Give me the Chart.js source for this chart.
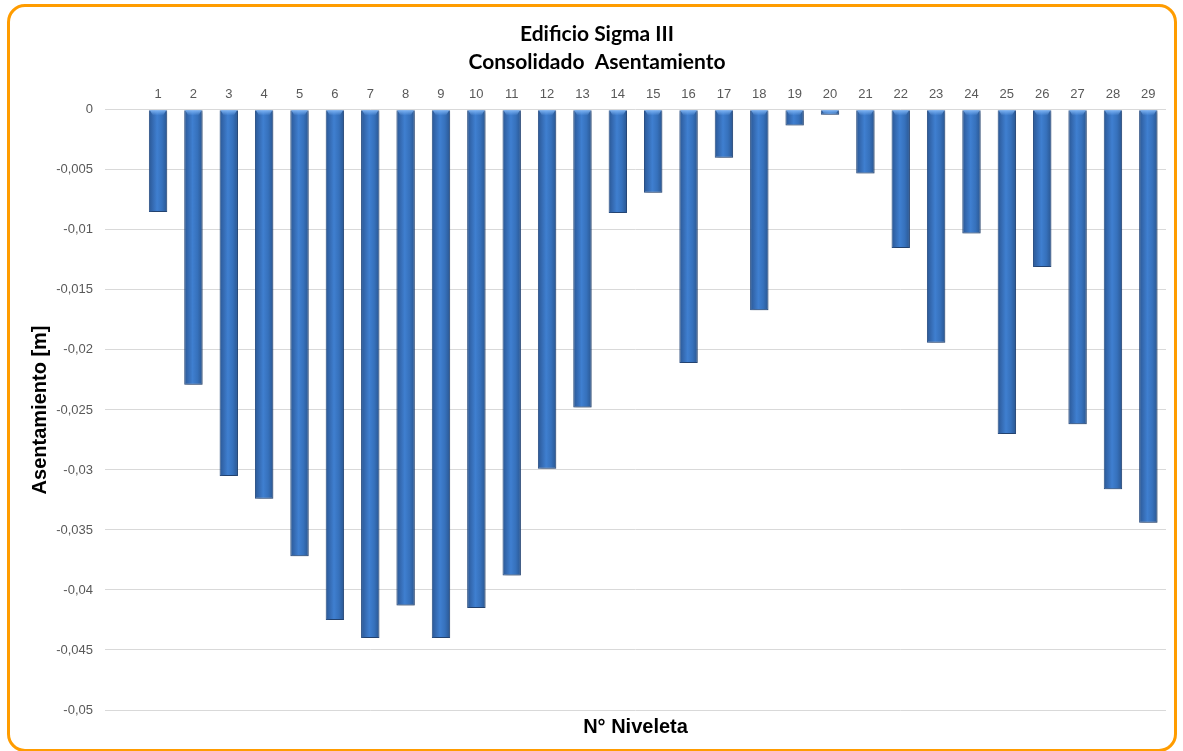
<!DOCTYPE html>
<html>
<head>
<meta charset="utf-8">
<script src="https://cdn.jsdelivr.net/npm/chart.js@4/dist/chart.umd.min.js"></script>
<style>
  html, body { margin: 0; padding: 0; background: #ffffff; }
  #wrap { position: relative; width: 1183px; height: 751px; overflow: hidden; }
  #frame {
    position: absolute; left: 7px; top: 4px; width: 1170px; height: 748px;
    border: 3px solid #ff9c00; border-radius: 18px; box-sizing: border-box;
    pointer-events: none;
  }
  canvas { position: absolute; left: 0; top: 0; }
</style>
</head>
<body>
<div id="wrap">
  <canvas id="c" width="1183" height="751"></canvas>
  <div id="frame"></div>
</div>
<script>
// Niveletas (first slot is an empty category on the axis)
const categories = ['', '1','2','3','4','5','6','7','8','9','10','11','12','13','14','15',
  '16','17','18','19','20','21','22','23','24','25','26','27','28','29'];

// Asentamiento consolidado por niveleta [m]
const asentamiento = [null,
  -0.0085, -0.0229, -0.0305, -0.0324, -0.0372, -0.0425, -0.0440, -0.0413, -0.0440, -0.0415,
  -0.0388, -0.0299, -0.0248, -0.0086, -0.0069, -0.0211, -0.0040, -0.0167, -0.0013, -0.0004,
  -0.0053, -0.0115, -0.0194, -0.0103, -0.0270, -0.0131, -0.0262, -0.0316, -0.0344];

const yMin = -0.05, yMax = 0, yStep = 0.005;
const titleLines = ['Edificio Sigma III', 'Consolidado  Asentamiento'];
const yTitle = 'Asentamiento [m]';
const xTitle = 'N° Niveleta';

const FONT = '"Liberation Sans", Arial, sans-serif';
const TITLE_FONT = 'Lato, "Open Sans", sans-serif';

// Shaded cylinder-like fill for every bar, plus a soft drop shadow
const barShading = {
  id: 'barShading',
  beforeDatasetsDraw(chart) {
    const ctx = chart.ctx;
    chart.getDatasetMeta(0).data.forEach(bar => {
      if (bar.skip || bar.width == null) return;
      const l = bar.x - bar.width / 2, r = bar.x + bar.width / 2;
      const g = ctx.createLinearGradient(l, 0, r, 0);
      g.addColorStop(0, '#2b5894');
      g.addColorStop(0.18, '#3367ad');
      g.addColorStop(0.45, '#3f7fd0');
      g.addColorStop(0.72, '#3671bc');
      g.addColorStop(1, '#2a5690');
      // each bar gets its own options object so the fills stay separate
      bar.options = Object.assign({}, bar.options, { backgroundColor: g });
    });
    ctx.save();
    ctx.shadowColor = 'rgba(0,0,0,0.25)';
    ctx.shadowBlur = 3;
    ctx.shadowOffsetX = 1;
    ctx.shadowOffsetY = 2;
  },
  afterDatasetsDraw(chart) {
    const ctx = chart.ctx;
    ctx.restore();
    // light bevel at the top of each bar
    chart.getDatasetMeta(0).data.forEach(bar => {
      if (bar.skip || bar.width == null) return;
      const l = bar.x - bar.width / 2, w = bar.width;
      const top = Math.min(bar.y, bar.base);
      const h = Math.min(5, Math.abs(bar.y - bar.base));
      const g = ctx.createLinearGradient(0, top, 0, top + h);
      g.addColorStop(0, 'rgba(125,180,245,0.95)');
      g.addColorStop(1, 'rgba(125,180,245,0)');
      ctx.save();
      ctx.fillStyle = g;
      ctx.beginPath();
      ctx.moveTo(l + 1, top);
      ctx.lineTo(l + w - 1, top);
      ctx.lineTo(l + w - 4, top + h);
      ctx.lineTo(l + 4, top + h);
      ctx.closePath();
      ctx.fill();
      ctx.restore();
    });
  }
};

new Chart(document.getElementById('c'), {
  type: 'bar',
  data: {
    labels: categories,
    datasets: [{
      data: asentamiento,
      backgroundColor: '#3569b0',
      borderColor: '#2b5188',
      borderWidth: 1,
      categoryPercentage: 1,
      barPercentage: 0.52
    }]
  },
  options: {
    responsive: false,
    animation: false,
    devicePixelRatio: 1,
    layout: { padding: { left: 28, right: 17, top: 0, bottom: 12 } },
    plugins: {
      legend: { display: false },
      tooltip: { enabled: false },
      title: {
        display: true,
        text: titleLines,
        color: '#000000',
        font: { family: TITLE_FONT, size: 21, weight: 'bold', lineHeight: 1.33 },
        padding: { top: 20, bottom: 0 }
      }
    },
    scales: {
      x: {
        position: 'top',
        offset: true,
        grid: { display: false, drawTicks: false },
        border: { display: false },
        ticks: {
          color: '#595959',
          font: { family: FONT, size: 13 },
          padding: 8,
          maxRotation: 0,
          autoSkip: false
        },
        afterFit(scale) { scale.height = 34; }
      },
      x2: {
        position: 'bottom',
        type: 'category',
        labels: categories,
        offset: true,
        grid: { display: false, drawTicks: false },
        border: { display: false },
        ticks: { display: false },
        title: {
          display: true,
          text: xTitle,
          color: '#000000',
          font: { family: FONT, size: 20, weight: 'bold' },
          padding: 0
        },
        afterFit(scale) { scale.height = 29; }
      },
      y: {
        min: yMin,
        max: yMax,
        grid: { color: '#d9d9d9', lineWidth: 1, drawTicks: false },
        border: { display: false },
        ticks: {
          stepSize: yStep,
          color: '#595959',
          font: { family: FONT, size: 13 },
          padding: 12,
          callback(v) {
            const n = Math.round(v * 1000) / 1000;
            return n === 0 ? '0' : String(n).replace('.', ',');
          }
        },
        title: {
          display: true,
          text: yTitle,
          color: '#000000',
          font: { family: FONT, size: 20, weight: 'bold' },
          padding: 0
        },
        afterFit(scale) { scale.width = 77; }
      }
    }
  },
  plugins: [barShading]
});
</script>
</body>
</html>
